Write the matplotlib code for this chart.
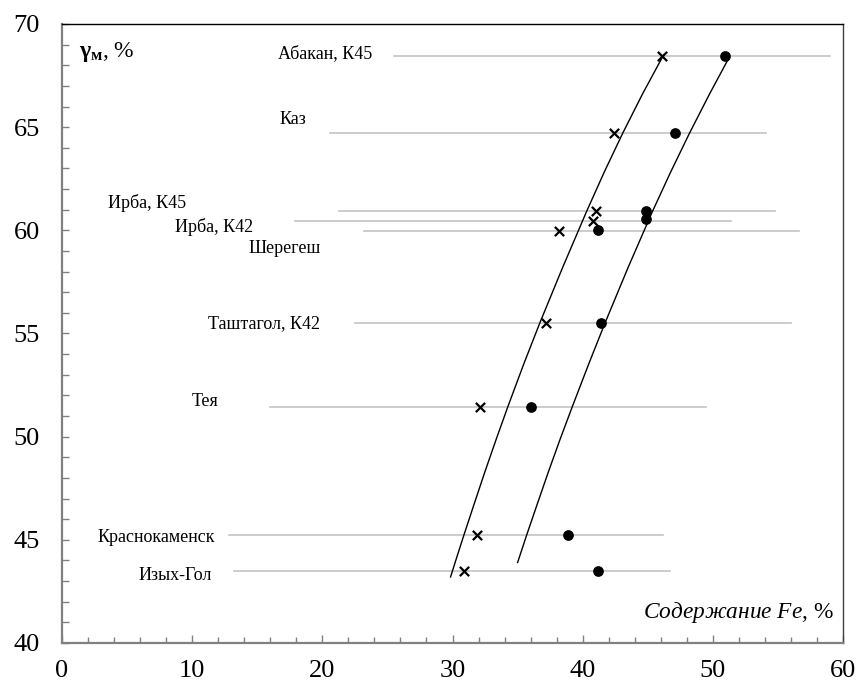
import numpy as np
import matplotlib
matplotlib.use("Agg")
import matplotlib.pyplot as plt
from matplotlib.ticker import MultipleLocator

plt.rcParams['font.family'] = ['Liberation Serif', 'DejaVu Serif']
plt.rcParams['mathtext.fontset'] = 'custom'
plt.rcParams['mathtext.rm'] = 'Liberation Serif'
plt.rcParams['mathtext.it'] = 'Liberation Serif:italic'
plt.rcParams['mathtext.bf'] = 'Liberation Serif:bold'

# месторождения: подпись, уровень по оси Y, начало и конец серой линии
names = ['Абакан, К45', 'Каз', 'Ирба, К45', 'Ирба, К42', 'Шерегеш',
         'Таштагол, К42', 'Тея', 'Краснокаменск', 'Изых-Гол']
gamma = [68.45, 64.7, 60.92, 60.45, 59.95, 55.5, 51.45, 45.22, 43.48]
line_x0 = [25.5, 20.6, 21.3, 17.9, 23.2, 22.5, 16.0, 12.8, 13.2]
line_x1 = [59.0, 54.1, 54.8, 51.4, 56.6, 56.0, 49.5, 46.2, 46.7]
fe_cross = [46.1, 42.4, 41.0, 40.8, 38.2, 37.2, 32.1, 31.9, 30.9]
fe_dot = [50.9, 47.1, 44.9, 44.9, 41.2, 41.4, 36.0, 38.9, 41.2]
gamma_dot = [68.45, 64.7, 60.92, 60.55, 60.0, 55.5, 51.45, 45.22, 43.48]
label_x = [16.6, 16.7, 3.5, 8.7, 14.3, 11.2, 10.0, 2.7, 5.85]
label_y = [68.55, 65.35, 61.32, 60.16, 59.14, 55.5, 51.68, 45.13, 43.29]

# граничные кривые (точки)
left_x = [29.85, 30.35, 30.86, 31.67, 32.49, 33.37, 34.25, 35.46, 36.70, 38.46, 40.29, 41.64, 43.07, 44.59, 46.13]
left_y = [43.2, 44.2, 45.2, 46.75, 48.3, 49.9, 51.45, 53.5, 55.5, 58.2, 60.9, 62.8, 64.7, 66.6, 68.4]
right_x = [35.0, 35.34, 35.68, 36.52, 37.37, 38.28, 39.20, 40.45, 41.71, 43.49, 45.35, 46.74, 48.20, 49.74, 51.27]
right_y = [43.9, 44.55, 45.2, 46.75, 48.3, 49.9, 51.45, 53.5, 55.5, 58.2, 60.9, 62.8, 64.7, 66.6, 68.4]

fig = plt.figure(figsize=(8.59, 6.93), dpi=100)
ax = fig.add_axes([0.0722, 0.0722, 0.9092, 0.8932])

for i in range(len(names)):
    ax.plot([line_x0[i], line_x1[i]], [gamma[i], gamma[i]], color='#c4c4c4', lw=1.2, zorder=1)
    ax.text(label_x[i], label_y[i], names[i], fontsize=13, ha='left', va='center')

ax.plot(left_x, left_y, color='black', lw=1.0, zorder=2)
ax.plot(right_x, right_y, color='black', lw=1.0, zorder=2)

ax.scatter(fe_cross, gamma, marker='x', s=45, color='black', linewidths=1.6, zorder=3)
ax.scatter(fe_dot, gamma_dot, marker='o', s=45, color='black', zorder=3)

ax.set_xlim(0, 60)
ax.set_ylim(40, 70)
ax.xaxis.set_major_locator(MultipleLocator(10))
ax.xaxis.set_minor_locator(MultipleLocator(2))
ax.yaxis.set_major_locator(MultipleLocator(5))
ax.yaxis.set_minor_locator(MultipleLocator(1))
ax.tick_params(axis='both', which='both', direction='in', colors='#808080', labelcolor='black', labelsize=19)
ax.tick_params(axis='x', which='major', length=6, width=1, pad=12)
ax.tick_params(axis='x', which='minor', length=4, width=1)
ax.tick_params(axis='y', which='both', length=5, width=1, pad=16)

for side in ['left', 'bottom']:
    ax.spines[side].set_color('#808080')
    ax.spines[side].set_linewidth(1.6)
ax.spines['top'].set_color('black')
ax.spines['right'].set_color('#404040')
ax.spines['top'].set_linewidth(1.0)
ax.spines['right'].set_linewidth(1.0)

ax.text(0.022, 0.955, r'$\mathbf{γ_{м}}$, %', transform=ax.transAxes, fontsize=17, ha='left', va='center')
ax.text(0.988, 0.05, r'$\mathit{Содержание\ Fe}$, %', transform=ax.transAxes, fontsize=16.8, ha='right', va='center')

fig.savefig('out.png', dpi=100)
